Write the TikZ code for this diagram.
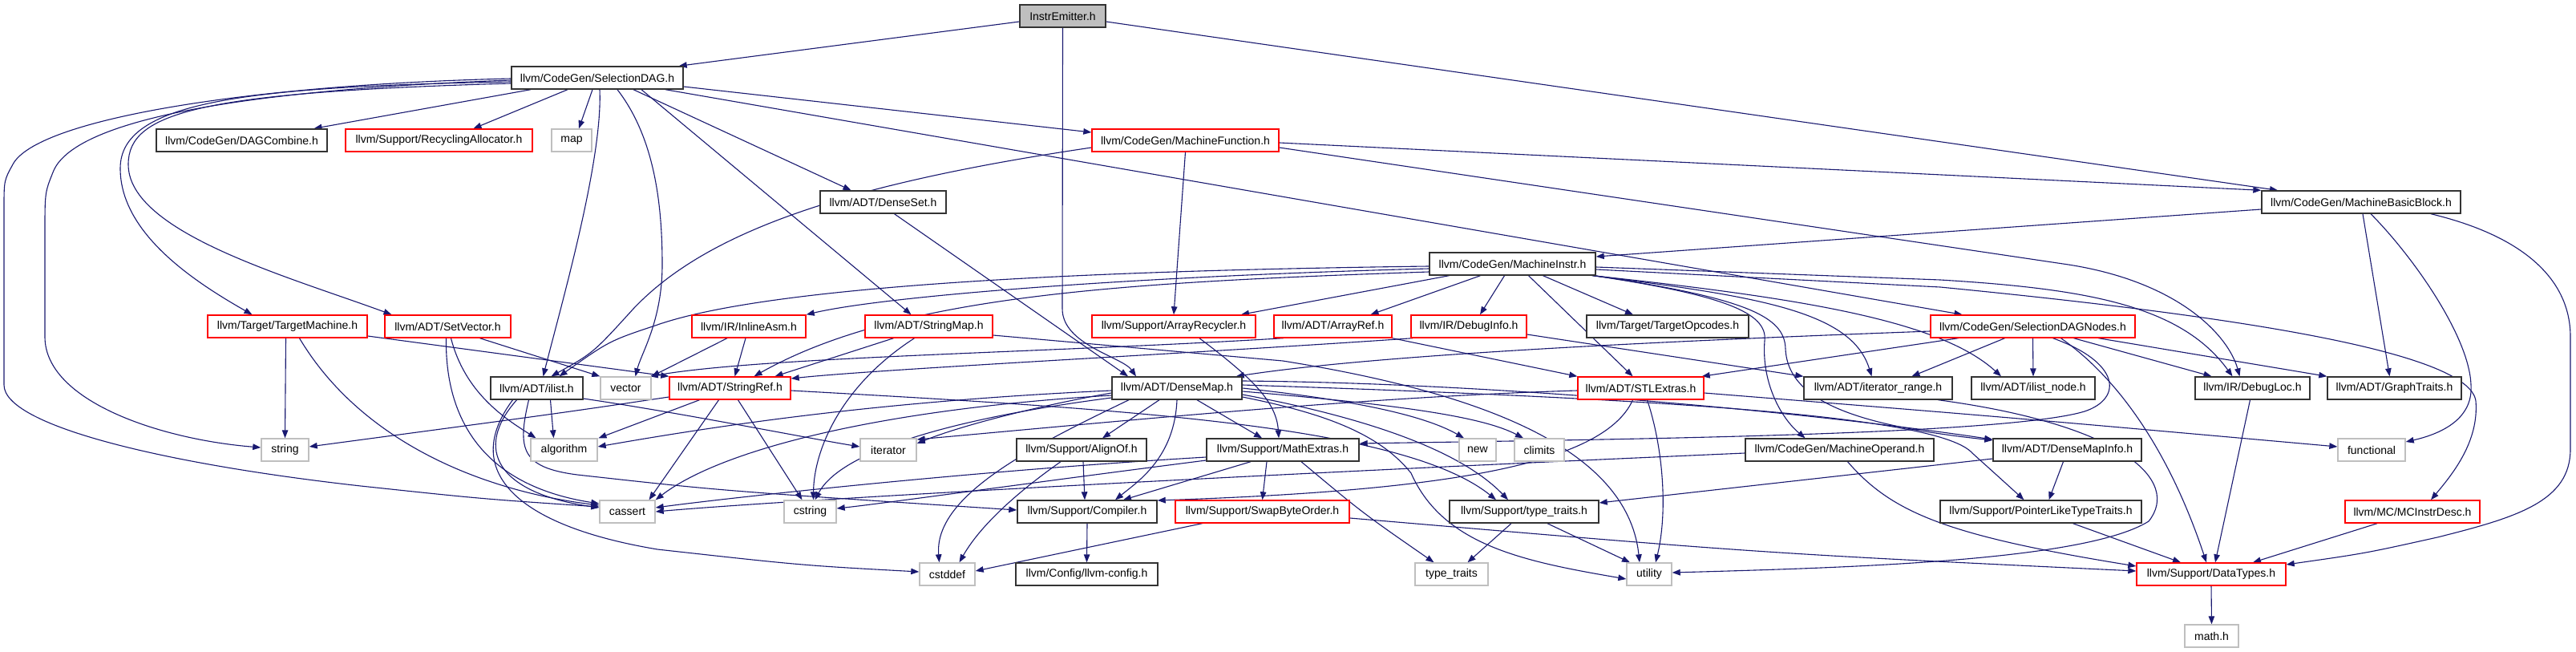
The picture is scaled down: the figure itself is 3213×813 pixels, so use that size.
\documentclass[tikz,border=0pt]{standalone}
\usepackage{fontspec}
\setmainfont{Liberation Sans}
\usetikzlibrary{arrows.meta}
\definecolor{edgeblue}{HTML}{191970}
\definecolor{boxgray}{HTML}{BFBFBF}
\pgfdeclarelayer{back}
\pgfdeclarelayer{bg}
\pgfsetlayers{back,bg,main}
\tikzset{
  nb/.style={draw=black!80, line width=1.4pt, fill=white, minimum height=28pt, inner sep=0pt, font=\fontsize{14}{16}\selectfont},
  nr/.style={nb, draw=red},
  ng/.style={nb, draw=boxgray},
  e/.style={draw=edgeblue, line width=1.1pt, -{Triangle[length=10pt,width=7.5pt]}},
}
\begin{document}
\begin{tikzpicture}[x=1pt,y=-1pt]
\useasboundingbox (0,0) rectangle (3213,813);
\begin{pgfonlayer}{back}
\fill[white] (0,0) rectangle (3213,813);
\end{pgfonlayer}
% row 0-3
\node[nb, fill=boxgray, minimum width=107pt] (IE) at (1325.5,20) {InstrEmitter.h};
\node[nb, minimum width=214pt] (SD) at (745,97) {llvm/CodeGen/SelectionDAG.h};
\node[nb, minimum width=213pt] (DC) at (301.5,175) {llvm/CodeGen/DAGCombine.h};
\node[nr, minimum width=233pt] (RA) at (547.5,175) {llvm/Support/RecyclingAllocator.h};
\node[ng, minimum width=50pt] (MAP) at (713,175) {map};
\node[nr, minimum width=233pt] (MF) at (1478.5,175) {llvm/CodeGen/MachineFunction.h};
\node[nb, minimum width=157pt] (DS) at (1101.5,252) {llvm/ADT/DenseSet.h};
\node[nb, minimum width=248pt] (MBB) at (2945,252) {llvm/CodeGen/MachineBasicBlock.h};
\node[nb, minimum width=207pt] (MI) at (1886.5,329) {llvm/CodeGen/MachineInstr.h};
% row 407
\node[nr, minimum width=199pt] (TM) at (358.5,407) {llvm/Target/TargetMachine.h};
\node[nr, minimum width=157pt] (SV) at (558.5,407) {llvm/ADT/SetVector.h};
\node[nr, minimum width=142pt] (IA) at (934,407) {llvm/IR/InlineAsm.h};
\node[nr, minimum width=159pt] (SM) at (1158.5,407) {llvm/ADT/StringMap.h};
\node[nr, minimum width=204pt] (AR) at (1464,407) {llvm/Support/ArrayRecycler.h};
\node[nr, minimum width=147pt] (AREF) at (1662.5,407) {llvm/ADT/ArrayRef.h};
\node[nr, minimum width=144pt] (DI) at (1832,407) {llvm/IR/DebugInfo.h};
\node[nb, minimum width=202pt] (TO) at (2080,407) {llvm/Target/TargetOpcodes.h};
\node[nr, minimum width=255pt] (SDN) at (2535.5,407) {llvm/CodeGen/SelectionDAGNodes.h};
% row 484
\node[nb, minimum width=115pt] (IL) at (669.5,484) {llvm/ADT/ilist.h};
\node[ng, minimum width=63pt] (VEC) at (780.5,484) {vector};
\node[nr, minimum width=151pt] (SR) at (910.5,484) {llvm/ADT/StringRef.h};
\node[nb, minimum width=162pt] (DM) at (1468,484) {llvm/ADT/DenseMap.h};
\node[nr, minimum width=157pt] (STL) at (2046.5,484) {llvm/ADT/STLExtras.h};
\node[nb, minimum width=185pt] (IR) at (2342.5,484) {llvm/ADT/iterator\_range.h};
\node[nb, minimum width=154pt] (ILN) at (2536,484) {llvm/ADT/ilist\_node.h};
\node[nb, minimum width=143pt] (DL) at (2809.5,484) {llvm/IR/DebugLoc.h};
\node[nb, minimum width=167pt] (GT) at (2986.5,484) {llvm/ADT/GraphTraits.h};
% row 561
\node[ng, minimum width=59pt] (STR) at (355.5,561) {string};
\node[ng, minimum width=83pt] (ALG) at (703.5,561) {algorithm};
\node[ng, minimum width=70pt] (ITER) at (1108,561) {iterator};
\node[nb, minimum width=162pt] (AO) at (1349,561) {llvm/Support/AlignOf.h};
\node[nb, minimum width=190pt] (ME) at (1600,561) {llvm/Support/MathExtras.h};
\node[ng, minimum width=46pt] (NEW) at (1843,561) {new};
\node[ng, minimum width=62pt] (CL) at (1920,561) {climits};
\node[nb, minimum width=235pt] (MO) at (2294.5,561) {llvm/CodeGen/MachineOperand.h};
\node[nb, minimum width=185pt] (DMI) at (2578.5,561) {llvm/ADT/DenseMapInfo.h};
\node[ng, minimum width=84pt] (FUN) at (2958,561) {functional};
% row 638
\node[ng, minimum width=69pt] (CA) at (782.5,638) {cassert};
\node[ng, minimum width=65pt] (CS) at (1010.5,638) {cstring};
\node[nb, minimum width=174pt] (COMP) at (1356,638) {llvm/Support/Compiler.h};
\node[nr, minimum width=217pt] (SBO) at (1574.5,638) {llvm/Support/SwapByteOrder.h};
\node[nb, minimum width=186pt] (TT) at (1901,638) {llvm/Support/type\_traits.h};
\node[nb, minimum width=251pt] (PLT) at (2545.5,638) {llvm/Support/PointerLikeTypeTraits.h};
\node[nr, minimum width=168pt] (MCD) at (3009,638) {llvm/MC/MCInstrDesc.h};
% row 716
\node[ng, minimum width=69pt] (CD) at (1181.5,716) {cstddef};
\node[nb, minimum width=177pt] (LC) at (1355.5,716) {llvm/Config/llvm-config.h};
\node[ng, minimum width=91pt] (TTR) at (1810.5,716) {type\_traits};
\node[ng, minimum width=56pt] (UT) at (2057,716) {utility};
\node[nr, minimum width=186pt] (DT) at (2758,716) {llvm/Support/DataTypes.h};
\node[ng, minimum width=67pt] (MATH) at (2758.5,793) {math.h};

\begin{pgfonlayer}{bg}
% InstrEmitter
\draw[e] ([yshift=-7pt]IE.west) -- ([xshift=-6pt]SD.north east);
\draw[e] (IE.south) -- (1325,385) .. controls (1325,430) and (1400,445) .. ([xshift=-51pt]DM.north);
\draw[e] ([yshift=-7pt]IE.east) -- ([xshift=-104pt]MBB.north);
% SelectionDAG
\draw[e] ([xshift=-83pt]SD.south) -- ([xshift=90pt]DC.north);
\draw[e] ([xshift=-37pt]SD.south) -- ([xshift=43pt]RA.north);
\draw[e] ([xshift=-6pt]SD.south) -- ([xshift=9pt]MAP.north);
\draw[e] ([yshift=-11pt]SD.east) -- ([yshift=10pt]MF.west);
\draw[e] ([xshift=45pt]SD.south) -- ([xshift=-40pt]DS.north);
\draw[e] ([xshift=55pt]SD.south) -- ([xshift=-22pt]SM.north);
\draw[e] ([xshift=85pt]SD.south) -- ([xshift=-88pt]SDN.north);
\draw[e] ([xshift=3pt]SD.south) .. controls (752,200) and (700,380) .. ([xshift=8pt]IL.north);
\draw[e] ([xshift=25pt]SD.south) .. controls (815,170) and (826,250) .. (826,330) .. controls (826,400) and (800,440) .. ([xshift=12pt]VEC.north);
\draw[e] ([yshift=-5pt]SD.west) .. controls (300,108) and (150,128) .. (150,210) .. controls (150,290) and (240,350) .. ([xshift=-44pt]TM.north);
\draw[e] ([yshift=-7pt]SD.west) .. controls (250,115) and (160,140) .. (160,205) .. controls (160,290) and (360,345) .. ([xshift=-70pt]SV.north);
\draw[e] ([yshift=-3pt]SD.west) .. controls (300,112) and (90,150) .. (66,215) .. controls (56,240) .. (56,290) -- (56,420) .. controls (56,500) and (200,548) .. ([yshift=3pt]STR.west);
\draw[e] ([yshift=-1pt]SD.west) .. controls (300,106) and (45,150) .. (16,205) .. controls (5,225) .. (5,260) -- (5,480) .. controls (5,530) and (200,578) .. (450,606) .. controls (600,622) .. ([yshift=6pt]CA.west);
% MachineFunction
\draw[e] ([yshift=-3pt]MF.east) -- (MBB.north west);
\draw[e] ([yshift=-9pt]MF.west) .. controls (1050,230) and (880,290) .. (790,385) .. controls (740,440) .. ([xshift=18pt]IL.north);
\draw[e] (MF.south) -- (AR.north);
\draw[e] ([yshift=-9pt]MF.east) -- (2580,330) .. controls (2720,352) and (2780,420) .. ([xshift=-16pt]DL.north);
% MachineBasicBlock
\draw[e] ([yshift=-9pt]MBB.west) -- ([yshift=9pt]MI.east);
\draw[e] ([xshift=2pt]MBB.south) -- ([xshift=-6pt]GT.north);
\draw[e] ([xshift=12pt]MBB.south) .. controls (3010,320) and (3080,420) .. (3082,480) .. controls (3085,525) and (3040,542) .. ([yshift=10pt]FUN.east);
\draw[e] ([xshift=87pt]MBB.south) .. controls (3150,295) and (3206,350) .. (3206,420) -- (3206,560) .. controls (3206,625) and (3140,645) .. (3040,670) .. controls (2950,690) .. ([yshift=12pt]DT.east);
% MachineInstr
\draw[e] ([yshift=-3pt]MI.west) .. controls (1300,338) and (950,360) .. (820,405) .. controls (760,425) .. ([xshift=28pt]IL.north);
\draw[e] ([yshift=-6pt]MI.west) .. controls (1400,345) and (1100,370) .. (IA.north east);
\draw[e] ([yshift=-10pt]MI.west) .. controls (1400,352) and (1120,368) .. ([xshift=30pt]SR.north);
\draw[e] ([xshift=-79pt]MI.south) -- ([xshift=84pt]AR.north);
\draw[e] ([xshift=-40pt]MI.south) -- ([xshift=47pt]AREF.north);
\draw[e] ([xshift=-10pt]MI.south) -- ([xshift=14pt]DI.north);
\draw[e] ([xshift=20pt]MI.south) -- ([xshift=-10pt]STL.north);
\draw[e] ([xshift=38pt]MI.south) -- ([xshift=-43pt]TO.north);
\draw[e] ([xshift=-5pt]MI.south east) .. controls (2200,370) and (2310,390) .. ([xshift=-8pt]IR.north);
\draw[e] ([xshift=-4pt]MI.south east) .. controls (2250,372) and (2420,400) .. ([xshift=-40pt]ILN.north);
\draw[e] ([xshift=-3pt]MI.south east) .. controls (2150,368) and (2205,390) .. (2201,425) .. controls (2197,475) and (2220,520) .. ([xshift=-43pt]MO.north);
\draw[e] ([xshift=-2pt]MI.south east) .. controls (2180,372) and (2226,395) .. (2227,435) .. controls (2230,505) and (2330,532) .. ([yshift=12pt]DMI.west);
\draw[e] ([yshift=-4pt]MI.east) -- (2420,349) .. controls (2600,360) and (2720,380) .. ([xshift=-25pt]DL.north);
\draw[e] ([yshift=-7pt]MI.east) -- (2420,358) .. controls (2800,395) and (3080,440) .. (3088,500) .. controls (3092,550) and (3060,590) .. ([xshift=23pt]MCD.north);
% SelectionDAGNodes
\draw[e] (SDN.south) -- (ILN.north);
\draw[e] ([xshift=51pt]SDN.south) -- ([xshift=-51pt]DL.north);
\draw[e] ([xshift=82pt]SDN.south) -- (GT.north west);
\draw[e] ([xshift=35pt]SDN.south) .. controls (2640,470) and (2705,560) .. ([xshift=-6pt]DT.north);
\draw[e] ([xshift=-35pt]SDN.south) -- ([xshift=42pt]IR.north);
\draw[e] ([xshift=-93pt]SDN.south) -- ([xshift=-3pt]STL.north east);
\draw[e] ([xshift=25pt]SDN.south) .. controls (2645,452) and (2648,497) .. (2600,513) .. controls (2500,543) and (2000,548) .. ([yshift=8pt]ME.east);
\draw[e] ([yshift=-6pt]SDN.west) .. controls (2000,428) and (1700,445) .. ([xshift=-8pt]DM.north east);
% DenseSet
\draw[e] ([xshift=14pt]DS.south) -- ([xshift=-61pt]DM.north);
% MachineOperand
\draw[e] ([yshift=-4pt]MO.west) .. controls (1600,590) and (1000,622) .. (CA.east);
\draw[e] ([xshift=10pt]MO.south) .. controls (2360,640) and (2430,668) .. ([yshift=10pt]DT.west);
% STLExtras
\draw[e] ([xshift=8pt]STL.south) .. controls (2075,560) and (2080,640) .. ([xshift=8pt]UT.north);
\draw[e] ([yshift=-3pt]STL.west) .. controls (1700,495) and (1400,525) .. ([yshift=13pt]ITER.east);
\draw[e] ([xshift=-10pt]STL.south) .. controls (2000,580) and (1800,612) .. ([yshift=14pt]COMP.east);
\draw[e] ([yshift=-6pt]STL.east) .. controls (2500,520) .. ([yshift=4pt]FUN.west);
% DenseMap
\draw[e] ([xshift=-22pt]DM.south) -- ([xshift=26pt]AO.north);
\draw[e] (DM.south) .. controls (1465,570) and (1420,600) .. ([xshift=35pt]COMP.north);
\draw[e] ([xshift=25pt]DM.south) -- ([xshift=-26pt]ME.north);
\draw[e] ([yshift=9pt]DM.east) .. controls (1900,478) and (2300,520) .. ([yshift=13pt]DMI.west);
\draw[e] ([yshift=4pt]DM.east) .. controls (2100,498) and (2420,520) .. (2460,565) .. controls (2490,592) .. ([xshift=-21pt]PLT.north);
\draw[e] (DM.east) .. controls (1700,500) and (1780,520) .. ([xshift=-17pt]NEW.north);
\draw[e] ([yshift=-4pt]DM.east) .. controls (1750,505) and (1850,520) .. ([xshift=-20pt]CL.north);
\draw[e] ([yshift=-8pt]DM.east) .. controls (1700,520) and (1820,560) .. ([xshift=-20pt]TT.north);
\draw[e] ([yshift=-11pt]DM.east) .. controls (1650,515) and (1720,540) .. (1760,590) .. controls (1800,680) and (1900,700) .. ([yshift=-6pt]UT.west);
\draw[e] ([yshift=-6pt]DM.west) .. controls (1300,505) and (1200,530) .. ([yshift=8pt]ITER.east);
\draw[e] ([yshift=-3pt]DM.west) .. controls (1100,500) and (900,530) .. ([yshift=4pt]ALG.east);
\draw[e] ([yshift=-9pt]DM.west) .. controls (1100,510) and (900,560) .. (CA.north east);
\draw[e] ([yshift=-12pt]DM.west) .. controls (1200,520) and (1050,560) .. ([xshift=6pt]CS.north);
\draw[e] ([xshift=-60pt]DM.south) .. controls (1280,560) and (1165,620) .. ([xshift=-10pt]CD.north);
% ilist
\draw[e] ([xshift=17pt]IL.south) -- ([xshift=-13pt]ALG.north);
\draw[e] ([xshift=-25pt]IL.south) .. controls (590,560) and (620,615) .. ([yshift=5pt]CA.west);
\draw[e] ([xshift=-30pt]IL.south) .. controls (575,585) and (640,655) .. (820,685) .. controls (1000,705) .. ([yshift=3pt]CD.west);
\draw[e] ([yshift=-13pt]IL.east) .. controls (850,515) and (1000,545) .. ([yshift=4pt]ITER.west);
\draw[e] ([xshift=-10pt]IL.south) .. controls (645,560) and (650,583) .. (720,592) .. controls (900,612) .. ([yshift=2pt]COMP.west);
% StringRef
\draw[e] ([xshift=-38pt]SR.south) -- ([xshift=43pt]ALG.north);
\draw[e] ([xshift=-14pt]SR.south) -- ([xshift=27pt]CA.north);
\draw[e] ([xshift=10pt]SR.south) -- ([xshift=-10pt]CS.north);
\draw[e] ([yshift=-11pt]SR.west) .. controls (700,515) .. ([yshift=4pt]STR.east);
\draw[e] ([yshift=-3pt]SR.east) .. controls (1400,510) and (1750,530) .. ([xshift=-35pt]TT.north);
% TargetMachine, SetVector, InlineAsm, StringMap
\draw[e] ([xshift=-2pt]TM.south) -- (STR.north);
\draw[e] ([xshift=15pt]TM.south) .. controls (450,550) and (600,612) .. ([yshift=8pt]CA.west);
\draw[e] ([yshift=-12pt]TM.east) -- (SR.north west);
\draw[e] ([xshift=40pt]SV.south) -- (VEC.north west);
\draw[e] ([xshift=4pt]SV.south) .. controls (580,490) and (630,522) .. ([xshift=-35pt]ALG.north);
\draw[e] ([xshift=-2pt]SV.south) .. controls (555,520) and (600,605) .. ([yshift=10pt]CA.west);
\draw[e] ([xshift=-27pt]IA.south) -- (VEC.north east);
\draw[e] ([xshift=-4pt]IA.south) -- ([xshift=6pt]SR.north);
\draw[e] ([xshift=-44pt]SM.south) -- ([xshift=56pt]SR.north);
\draw[e] ([xshift=-18pt]SM.south) .. controls (1050,480) and (1015,560) .. ([xshift=4pt]CS.north);
\draw[e] ([yshift=-11pt]SM.east) -- (1600,450) .. controls (1850,490) and (2030,560) .. ([xshift=-12pt]UT.north);
% ArrayRecycler, ArrayRef, DebugInfo
\draw[e] ([xshift=32pt]AR.south) .. controls (1560,470) and (1592,500) .. ([xshift=-5pt]ME.north);
\draw[e] ([xshift=-62pt]AREF.south) .. controls (1300,440) and (950,445) .. ([xshift=-2pt]VEC.north east);
\draw[e] (AREF.south east) -- (STL.north west);
\draw[e] ([xshift=-70pt]DI.south) .. controls (1500,440) and (1100,460) .. ([yshift=12pt]SR.east);
\draw[e] ([yshift=-10pt]DI.east) -- (IR.north west);
% lower rows
\draw[e] ([xshift=2pt]AO.south) -- ([xshift=-3pt]COMP.north);
\draw[e] ([xshift=-26pt]AO.south) .. controls (1260,620) and (1220,660) .. ([xshift=15pt]CD.north);
\draw[e] ([xshift=-40pt]ME.south) -- ([xshift=45pt]COMP.north);
\draw[e] ([xshift=-20pt]ME.south) -- (SBO.north);
\draw[e] ([yshift=-9pt]ME.west) .. controls (1200,588) and (900,622) .. ([yshift=5pt]CA.east);
\draw[e] ([yshift=-13pt]ME.west) .. controls (1300,600) and (1100,628) .. ([yshift=4pt]CS.east);
\draw[e] ([xshift=23pt]ME.south) .. controls (1700,640) .. ([xshift=-22pt]TTR.north);
\draw[e] (COMP.south) -- (LC.north);
\draw[e] ([xshift=-75pt]SBO.south) -- ([yshift=4pt]CD.east);
\draw[e] ([yshift=-8pt]SBO.east) .. controls (2200,690) .. ([yshift=4pt]DT.west);
\draw[e] ([xshift=-16pt]TT.south) -- ([xshift=20pt]TTR.north);
\draw[e] ([xshift=29pt]TT.south) -- ([xshift=-24pt]UT.north);
\draw[e] ([xshift=-5pt]DMI.south) -- ([xshift=10pt]PLT.north);
\draw[e] ([yshift=-11pt]DMI.west) -- ([yshift=11pt]TT.east);
\draw[e] ([xshift=40pt]PLT.south) -- ([xshift=-38pt]DT.north);
\draw[e] ([xshift=-3pt]DL.south) -- ([xshift=5pt]DT.north);
\draw[e] ([xshift=-44pt]MCD.south) -- ([xshift=52pt]DT.north);
\draw[e] (DT.south) -- (MATH.north);
\draw[e] ([xshift=75pt]IR.south) .. controls (2650,530) and (2720,600) .. (2680,650) .. controls (2600,700) and (2300,708) .. ([yshift=2pt]UT.east);
\end{pgfonlayer}
\end{tikzpicture}
\end{document}
